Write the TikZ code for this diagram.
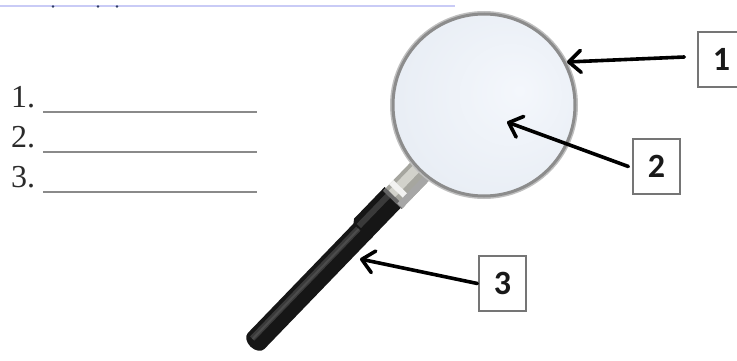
\documentclass[tikz,border=0pt]{standalone}
\usepackage{fontspec}
\setmainfont{Liberation Serif}
\setsansfont{Carlito}
\usetikzlibrary{arrows.meta}

\definecolor{rulecol}{HTML}{C9CBF6}
\definecolor{dotcol}{HTML}{2E3A66}
\definecolor{blankcol}{HTML}{8A8A8A}
\definecolor{numcol}{HTML}{2A2A2A}
\definecolor{boxcol}{HTML}{757575}
\definecolor{rimcol}{HTML}{8C8C8C}
\definecolor{lensA}{HTML}{F4F7FC}
\definecolor{lensB}{HTML}{E9EEF5}
\definecolor{lensC}{HTML}{D9DFE8}
\definecolor{gripcol}{HTML}{161616}
\definecolor{griplight}{HTML}{3A3A3A}
\definecolor{silver}{HTML}{A6A69F}
\definecolor{silverlight}{HTML}{D2D2CB}

\pgfdeclareradialshading{lensglass}{\pgfpoint{10bp}{4bp}}{%
  color(0bp)=(lensA); color(28bp)=(lensB); color(50bp)=(lensC)}

\begin{document}
\begin{tikzpicture}[x=1pt,y=1pt,
  listnum/.style={font=\fontsize{32}{32}\selectfont, text=numcol, inner sep=0pt, anchor=base west},
  blank/.style={draw=blankcol, line width=1.5pt},
  tag/.style={draw=boxcol, line width=1.3pt, fill=white, minimum width=47pt,
    minimum height=55pt, inner sep=0pt, text=black!90,
    font=\sffamily\bfseries\fontsize{34}{34}\selectfont},
  pointer/.style={line width=3.6pt, line cap=round,
    -{Straight Barb[length=12pt,width=22pt,line cap=round,line join=round]}},
  grip/.style={fill=gripcol}
]
\useasboundingbox (0,0) rectangle (737,360);

% ruled line along the top with its dots
\draw[rulecol, line width=2pt] (0,354) -- (455,354);
\foreach \dx in {53,98,117} \fill[dotcol] (\dx,353.5) circle (1.4pt);

% numbered answer blanks
\node[listnum] (n1) at (11,253) {1.};
\node[listnum] (n2) at (11,213) {2.};
\node[listnum] (n3) at (11,173) {3.};
\draw[blank] (43,248) -- (257,248);
\draw[blank] (43,208) -- (257,208);
\draw[blank] (43,168) -- (257,168);

% magnifier handle, drawn along its own axis from the lens centre
\begin{scope}[shift={(484,255)}, rotate=226]
  % lower grip with rounded end
  \fill[grip] (172,-11.5) -- (328,-11.5)
     arc[start angle=-90, end angle=90, x radius=8, y radius=11.5]
     -- (172,11.5) -- cycle;
  \draw[griplight, line width=6pt] (176,-4.5) -- (329,-4.5);
  \draw[black!70, line width=2pt] (176,-4) -- (329,-4);
  % upper grip, slightly wider
  \fill[grip] (128,-14.5) -- (172,-14.5) -- (176,-11.5) -- (176,11.5) -- (128,11.5) -- cycle;
  \draw[griplight, line width=6pt] (130,-6) -- (174,-6);
  % metal ferrule
  \fill[silver] (84,-13) rectangle (131,13);
  \fill[silverlight] (84,-9) rectangle (131,0);
  \fill[white!85!silver] (117,-13) rectangle (123,13);
  \fill[black!60] (128,-13) rectangle (132,13);
  \fill[black!35] (84,6) rectangle (131,13);
\end{scope}

% lens with its rim
\coordinate (lc) at (484,255);
\draw[black!25, line width=3pt] (lc) circle (92.5);
\shade[shading=lensglass] (lc) circle (91);
\draw[rimcol, line width=3pt] (lc) circle (91);

% numbered tags
\node[tag] (b1) at (721.5,300.5) {1};
\node[tag] (b2) at (656.5,193.5) {2};
\node[tag] (b3) at (502.5,76.5) {3};

% pointer tips
\coordinate (t1) at (567,298);
\coordinate (t2) at (507,238);
\coordinate (t3) at (360,101);

% pointers
\draw[pointer] ([shift={(-13,2.5)}]b1.west) -- (t1);
\draw[pointer] ([xshift=-4pt]b2.west) -- (t2);
\draw[pointer] ([xshift=-1pt]b3.west) -- (t3);
\end{tikzpicture}
\end{document}
